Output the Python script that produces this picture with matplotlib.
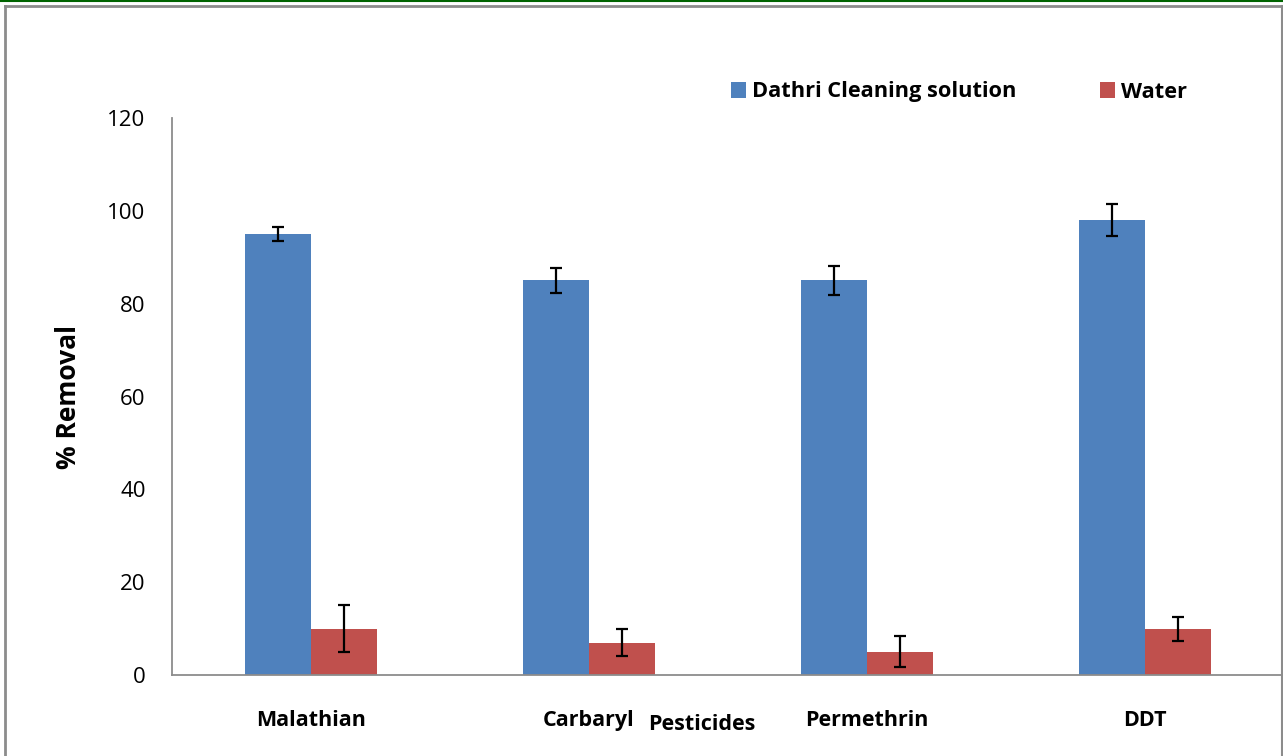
import matplotlib
matplotlib.use("Agg")
import matplotlib.pyplot as plt
import numpy as np
from matplotlib.lines import Line2D

categories = ["Malathian", "Carbaryl", "Permethrin", "DDT"]
dathri = [95, 85, 85, 98]
dathri_err = [1.5, 2.6, 3.2, 3.5]
water = [10, 7, 5, 10]
water_err = [5, 3, 3.3, 2.6]
yticks = [0, 20, 40, 60, 80, 100, 120]

W, H = 1283, 756
fig = plt.figure(figsize=(W/100, H/100), dpi=100)
plt.rcParams['font.family'] = ['Open Sans', 'DejaVu Sans']

ax = fig.add_axes([172/W, 1-675/H, 1112/W, (675-118)/H])
x = np.arange(len(categories))
bw = 66/278
ax.bar(x - bw/2, dathri, bw, color='#4F81BD', label='Dathri Cleaning solution', zorder=2)
ax.bar(x + bw/2, water, bw, color='#C0504D', label='Water', zorder=2)
ek = dict(ecolor='black', elinewidth=1.6, capsize=4.5, capthick=1.6, fmt='none', zorder=3)
ax.errorbar(x - bw/2, dathri, yerr=dathri_err, **ek)
ax.errorbar(x + bw/2, water, yerr=water_err, **ek)

ax.set_xlim(-0.5, 3.5)
ax.set_ylim(0, 120)
ax.set_yticks(yticks)
ax.set_yticklabels([str(v) for v in yticks], fontsize=16)
ax.set_xticks(x)
ax.set_xticklabels(categories, fontsize=15.5, fontweight='bold')
ax.tick_params(axis='y', length=0, pad=19)
ax.tick_params(axis='x', length=0, pad=25)
for s in ['top', 'right']:
    ax.spines[s].set_visible(False)
for s in ['left', 'bottom']:
    ax.spines[s].set_color('#8c8c8c')
    ax.spines[s].set_linewidth(1.3)

ax.set_ylabel('% Removal', fontsize=19, fontweight='bold', labelpad=0)
ax.yaxis.set_label_coords((82-172)/1112, 0.5)
fig.text(702/W, 1-724/H, 'Pesticides', fontsize=15.5, fontweight='bold', ha='center', va='center')

leg = ax.legend(loc='center left', bbox_to_anchor=((711-172)/1112, (675-92)/557), ncol=2,
                frameon=False, prop={'weight': 'bold', 'size': 15.7},
                handlelength=0.7, handleheight=0.7, handletextpad=0.3, columnspacing=3.8)

# frame
fig.add_artist(Line2D([0, 1], [1-0.8/H, 1-0.8/H], transform=fig.transFigure, color='#006400', lw=1.5))
fig.add_artist(Line2D([5/W, 5/W], [0, 1-6/H], transform=fig.transFigure, color='#8c8c8c', lw=2))
fig.add_artist(Line2D([5/W, 1281/W], [1-6/H, 1-6/H], transform=fig.transFigure, color='#8c8c8c', lw=2))
fig.add_artist(Line2D([1281.5/W, 1281.5/W], [0, 1-6/H], transform=fig.transFigure, color='#8c8c8c', lw=1.5))

fig.savefig('out.png', dpi=100)
